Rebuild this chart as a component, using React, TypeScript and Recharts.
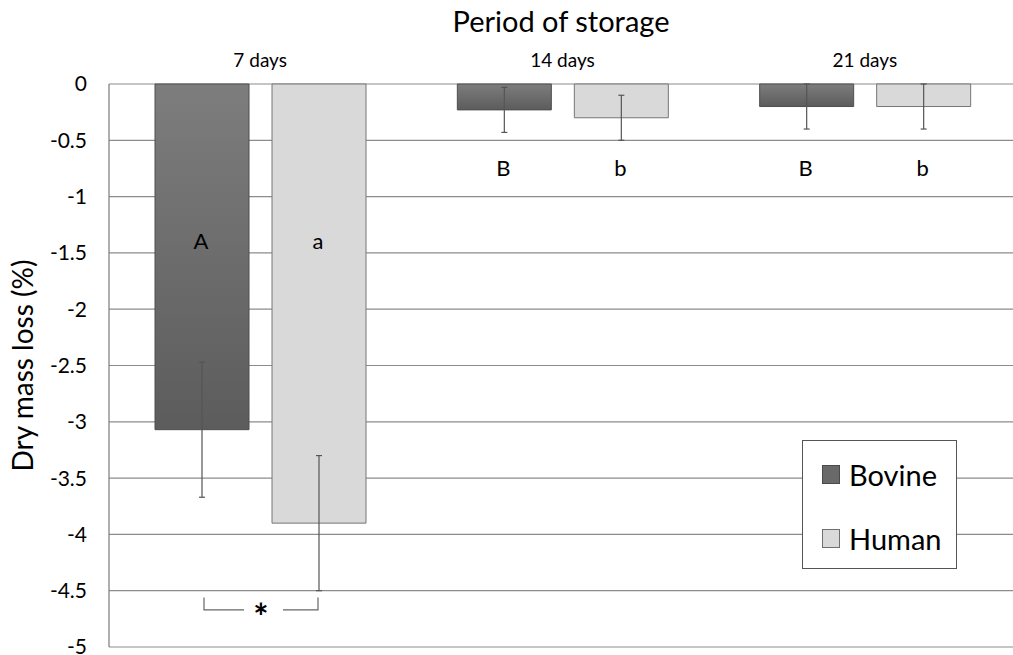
import { BarChart, Bar, XAxis, YAxis, CartesianGrid, ErrorBar, LabelList, Legend } from 'recharts';

const periods = ['7 days', '14 days', '21 days'];
const bovine = [-3.07, -0.23, -0.2];
const bovineErr = [0.6, 0.2, 0.2];
const human = [-3.9, -0.3, -0.2];
const humanErr = [0.6, 0.2, 0.2];
const bovineLetters = ['A', 'B', 'B'];
const humanLetters = ['a', 'b', 'b'];
const letterLevel = [-1.39, -0.74, -0.74];
const yTicks = [0, -0.5, -1, -1.5, -2, -2.5, -3, -3.5, -4, -4.5, -5];
// bovine vs human significance marker (only at 7 days)
const sigMarks = ['*', '', ''];
const sigTop = -4.56;
const sigBottom = -4.67;

const FONT = 'Lato, "Open Sans", sans-serif';
const BAR_GAP = 23;

const data = periods.map((period, i) => ({
  period,
  bovine: bovine[i],
  bovineErr: bovineErr[i],
  human: human[i],
  humanErr: humanErr[i],
}));

// pixel helpers taken from the bar's own rectangle
function barGeom(props: any, value: number) {
  const vb = props.viewBox && props.viewBox.width != null ? props.viewBox : props;
  const x = Number(vb.x);
  const y = Number(vb.y);
  const w = Number(vb.width);
  const h = Number(vb.height);
  const top = Math.min(y, y + h);
  const ppu = Math.abs(h) / Math.abs(value);
  return { cx: x + w / 2, w, toPx: (v: number) => top + Math.abs(v) * ppu };
}

const letterStyle = { fontSize: 22, fontFamily: FONT, fill: '#000' };

const renderBovineLetter = (props: any) => {
  const i = props.index;
  const g = barGeom(props, bovine[i]);
  return (
    <text x={g.cx - 1} y={g.toPx(letterLevel[i])} textAnchor="middle" dominantBaseline="central" style={letterStyle}>
      {bovineLetters[i]}
    </text>
  );
};

const renderHumanLetter = (props: any) => {
  const i = props.index;
  const g = barGeom(props, human[i]);
  const letter = (
    <text x={g.cx - 1} y={g.toPx(letterLevel[i])} textAnchor="middle" dominantBaseline="central" style={letterStyle}>
      {humanLetters[i]}
    </text>
  );
  if (!sigMarks[i]) return letter;
  const x1 = g.cx - g.w - BAR_GAP + 2;
  const x2 = g.cx - 1;
  const yt = g.toPx(sigTop);
  const yb = g.toPx(sigBottom);
  const mid = (x1 + x2) / 2;
  return (
    <g>
      {letter}
      <path
        d={`M${x1},${yt} V${yb} H${mid - 17} M${mid + 22},${yb} H${x2} V${yt}`}
        stroke="#666"
        strokeWidth={1.2}
        fill="none"
      />
      <text x={mid} y={yb + 20} textAnchor="middle" style={{ fontSize: 36, fontFamily: FONT, fontWeight: 700 }}>
        {sigMarks[i]}
      </text>
    </g>
  );
};

const legendColors: Record<string, { fill: string; stroke: string }> = {
  Bovine: { fill: '#696969', stroke: '#4a4a4a' },
  Human: { fill: '#d9d9d9', stroke: '#6f6f6f' },
};

const renderLegend = (props: any) => {
  const items = props.payload || [];
  return (
    <div
      style={{
        width: 155,
        height: 129,
        boxSizing: 'border-box',
        border: '1.5px solid #555',
        background: '#fff',
        paddingTop: 1,
        paddingLeft: 19,
      }}
    >
      {items.map((item: any) => (
        <div key={item.value} style={{ display: 'flex', alignItems: 'center', height: 64 }}>
          <span
            style={{
              display: 'inline-block',
              width: 18,
              height: 19,
              boxSizing: 'border-box',
              background: legendColors[item.value].fill,
              border: `1px solid ${legendColors[item.value].stroke}`,
              marginRight: 9,
            }}
          />
          <span style={{ fontSize: 29, fontFamily: FONT, color: '#000' }}>{item.value}</span>
        </div>
      ))}
    </div>
  );
};

export default function App() {
  return (
    <div
      style={{
        position: 'absolute',
        left: 0,
        top: 0,
        width: 1013,
        height: 655,
        overflow: 'hidden',
        background: '#fff',
      }}
    >
      <div
        style={{
          position: 'absolute',
          left: 109,
          top: 5,
          width: 904,
          textAlign: 'center',
          fontSize: 29,
          lineHeight: '32px',
          fontFamily: FONT,
          color: '#000',
        }}
      >
        Period of storage
      </div>
      <BarChart
        width={1016}
        height={655}
        data={data}
        margin={{ top: 0, right: 0, left: 0, bottom: 8 }}
        barSize={94}
        barGap={BAR_GAP}
      >
        <defs>
          <linearGradient id="bovineFill" x1="0" y1="0" x2="0" y2="1">
            <stop offset="0%" stopColor="#7d7d7d" />
            <stop offset="100%" stopColor="#5c5c5c" />
          </linearGradient>
        </defs>
        <CartesianGrid vertical={false} stroke="#8c8c8c" strokeWidth={1.2} />
        <XAxis
          dataKey="period"
          orientation="top"
          height={84}
          axisLine={false}
          tickLine={false}
          tickSize={0}
          tickMargin={17}
          tick={{ fontSize: 19, fontFamily: FONT, fill: '#000' }}
        />
        <YAxis
          type="number"
          domain={[-5, 0]}
          ticks={yTicks}
          interval={0}
          width={109}
          tickLine={false}
          tickSize={0}
          tickMargin={22}
          axisLine={{ stroke: '#7a7a7a', strokeWidth: 1.2 }}
          tick={{ fontSize: 21, fontFamily: FONT, fill: '#000' }}
          label={{
            value: 'Dry mass loss (%)',
            angle: -90,
            position: 'insideLeft',
            offset: 23,
            style: { textAnchor: 'middle', fontSize: 28, fontFamily: FONT, fill: '#000' },
          }}
        />
        <Legend
          layout="vertical"
          align="center"
          verticalAlign="middle"
          wrapperStyle={{ left: 802, top: 440, width: 155, height: 129 }}
          content={renderLegend}
        />
        <Bar dataKey="bovine" name="Bovine" fill="url(#bovineFill)" stroke="#4f4f4f" strokeWidth={1} isAnimationActive={false}>
          <ErrorBar dataKey="bovineErr" width={3} stroke="#555" strokeWidth={1.2} direction="y" isAnimationActive={false} />
          <LabelList dataKey="bovine" content={renderBovineLetter} />
        </Bar>
        <Bar dataKey="human" name="Human" fill="#d9d9d9" stroke="#767676" strokeWidth={1} isAnimationActive={false}>
          <ErrorBar dataKey="humanErr" width={3} stroke="#555" strokeWidth={1.2} direction="y" isAnimationActive={false} />
          <LabelList dataKey="human" content={renderHumanLetter} />
        </Bar>
      </BarChart>
    </div>
  );
}
